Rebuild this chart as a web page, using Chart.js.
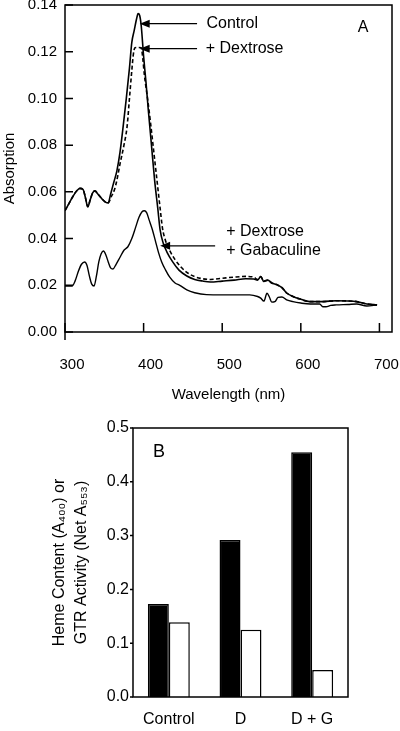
<!DOCTYPE html>
<html>
<head>
<meta charset="utf-8">
<script src="https://cdn.jsdelivr.net/npm/chart.js@4.4.0/dist/chart.umd.min.js"></script>
<style>
html, body { margin: 0; padding: 0; background: #fff; }
body { width: 400px; height: 731px; position: relative; overflow: hidden; }
canvas { position: absolute; left: 0; }
#specchart { top: 0; }
#barchart { top: 405px; }
</style>
</head>
<body>
<canvas id="specchart" width="400" height="405"></canvas>
<canvas id="barchart" width="400" height="326"></canvas>
<script>
// Panel A - absorption spectra (wavelength in nm, absorption)
var wlControl = [300, 305, 310, 315, 319, 323, 326, 329, 332, 335, 338, 342, 347, 352, 355, 358, 362, 366, 370, 374, 378, 382, 385, 388, 391, 393, 395, 397, 400, 403, 406, 410, 414, 418, 421, 425, 430, 437, 445, 455, 465, 475, 485, 500, 515, 530, 540, 545, 549, 553, 558, 563, 570, 576, 582, 590, 600, 611, 628, 645, 660, 671, 684, 697];
var absControl = [0.052, 0.055, 0.058, 0.0605, 0.0615, 0.061, 0.0575, 0.0536, 0.0565, 0.0595, 0.0604, 0.059, 0.057, 0.0555, 0.0553, 0.059, 0.064, 0.069, 0.077, 0.088, 0.100, 0.113, 0.124, 0.129, 0.134, 0.1363, 0.1355, 0.131, 0.118, 0.107, 0.095, 0.080, 0.065, 0.053, 0.0437, 0.038, 0.034, 0.030, 0.0265, 0.024, 0.0225, 0.0218, 0.0214, 0.0218, 0.0222, 0.0228, 0.0227, 0.0222, 0.0237, 0.0216, 0.0222, 0.021, 0.0202, 0.019, 0.0167, 0.0152, 0.014, 0.013, 0.013, 0.0134, 0.0133, 0.013, 0.012, 0.0116];

var wlDextrose = [300, 305, 310, 315, 319, 323, 326, 329, 332, 335, 338, 342, 347, 352, 355, 359, 363, 366, 370, 375, 379, 382, 385, 387, 389, 393, 397, 399, 401, 405, 409, 413, 417, 421, 424, 428, 433, 440, 447, 455, 465, 475, 485, 500, 515, 530, 540, 545, 549, 553, 558, 563, 570, 576, 582, 590, 600, 611, 628, 645, 660, 671, 684, 697];
var absDextrose = [0.052, 0.055, 0.058, 0.0605, 0.0615, 0.061, 0.0575, 0.0536, 0.0565, 0.0595, 0.0604, 0.059, 0.057, 0.0555, 0.0553, 0.058, 0.061, 0.065, 0.072, 0.080, 0.088, 0.100, 0.112, 0.119, 0.1217, 0.1218, 0.1217, 0.117, 0.110, 0.100, 0.089, 0.077, 0.065, 0.053, 0.0445, 0.039, 0.035, 0.031, 0.028, 0.0255, 0.0237, 0.0228, 0.0225, 0.023, 0.0235, 0.0238, 0.0235, 0.0225, 0.0237, 0.0218, 0.0222, 0.021, 0.0202, 0.019, 0.0167, 0.0152, 0.014, 0.013, 0.013, 0.0134, 0.0133, 0.013, 0.012, 0.0116];

var wlGab = [300, 309, 313, 317, 321, 325, 328, 331, 334, 337, 340, 343, 346, 349, 352, 355, 358, 361, 365, 370, 375, 380, 385, 390, 394, 398, 401, 404, 407, 411, 415, 419, 423, 428, 433, 440, 446, 455, 465, 480, 500, 520, 535, 545, 549, 553, 557, 560, 563, 567, 571, 576, 582, 590, 600, 612, 624, 628, 632, 638, 645, 660, 671, 684, 697];
var absGab = [0.0197, 0.0197, 0.022, 0.026, 0.029, 0.030, 0.0285, 0.024, 0.0205, 0.0197, 0.024, 0.030, 0.0335, 0.0347, 0.033, 0.030, 0.0275, 0.027, 0.029, 0.032, 0.035, 0.0365, 0.040, 0.045, 0.049, 0.0515, 0.0519, 0.051, 0.048, 0.044, 0.039, 0.034, 0.030, 0.0265, 0.0236, 0.021, 0.020, 0.018, 0.0168, 0.016, 0.0159, 0.0159, 0.0159, 0.0152, 0.0145, 0.0132, 0.0166, 0.015, 0.0128, 0.013, 0.0148, 0.015, 0.0138, 0.013, 0.0124, 0.012, 0.012, 0.0108, 0.0108, 0.0114, 0.0116, 0.0118, 0.012, 0.0111, 0.0116];

var xTicksA = [300, 400, 500, 600, 700];
var yTicksA = [0, 0.02, 0.04, 0.06, 0.08, 0.10, 0.12, 0.14];

// Panel A - arrow labels, in data units (nm, absorption)
var arrowNotes = [
    { tip: 395, tail: 468, at: 0.132 },
    { tip: 395, tail: 468, at: 0.1213 },
    { tip: 421, tail: 491, at: 0.0369 }
];
var textNotes = [
    { text: 'Control', x: 480, y: 0.132 },
    { text: '+ Dextrose', x: 479, y: 0.1213 },
    { text: '+ Dextrose', x: 505, y: 0.0429 },
    { text: '+ Gabaculine', x: 505, y: 0.0347 }
];

// Panel B - heme content and GTR activity
var groups = ['Control', 'D', 'D + G'];
var hemeContent = [0.173, 0.292, 0.455];
var gtrActivity = [0.139, 0.125, 0.050];
var yTicksB = [0, 0.1, 0.2, 0.3, 0.4, 0.5];

Chart.defaults.font.family = '"Liberation Sans", Arial, Helvetica, sans-serif';
Chart.defaults.color = '#000';

function pts(xs, ys) {
    return xs.map(function (v, i) { return { x: v, y: ys[i] }; });
}

// box round the plot plus short tick marks
var framePlugin = {
    id: 'frame',
    afterDatasetsDraw: function (chart, args, opts) {
        var ctx = chart.ctx, a = chart.chartArea, sx = chart.scales.x, sy = chart.scales.y;
        ctx.save();
        ctx.strokeStyle = '#000';
        ctx.lineWidth = 1.5;
        ctx.strokeRect(a.left, a.top, a.right - a.left, a.bottom - a.top);
        ctx.beginPath();
        if (opts.xIn) {
            sx.ticks.forEach(function (t) {
                var px = sx.getPixelForValue(t.value);
                ctx.moveTo(px, a.bottom);
                ctx.lineTo(px, a.bottom - opts.xIn);
            });
        }
        sy.ticks.forEach(function (t) {
            var py = sy.getPixelForValue(t.value);
            ctx.moveTo(a.left - (opts.yOut || 0), py);
            ctx.lineTo(a.left + (opts.yIn || 0), py);
        });
        if (opts.axisExt) {
            ctx.moveTo(a.left, a.bottom);
            ctx.lineTo(a.left, a.bottom + opts.axisExt);
        }
        ctx.stroke();
        ctx.restore();
    }
};

// panel letter, placed from the plot corner
var tagPlugin = {
    id: 'tag',
    afterDraw: function (chart, args, opts) {
        var ctx = chart.ctx, a = chart.chartArea;
        ctx.save();
        ctx.font = opts.size + 'px "Liberation Sans", Arial, sans-serif';
        ctx.fillStyle = '#000';
        ctx.textAlign = 'center';
        ctx.textBaseline = 'middle';
        var x = opts.fromRight ? a.right - opts.fromRight : a.left + opts.fromLeft;
        ctx.fillText(opts.text, x, a.top + opts.fromTop);
        ctx.restore();
    }
};

// arrows and series names for panel A
var notesPlugin = {
    id: 'notes',
    afterDraw: function (chart) {
        var ctx = chart.ctx, sx = chart.scales.x, sy = chart.scales.y;
        ctx.save();
        ctx.strokeStyle = '#000';
        ctx.fillStyle = '#000';
        ctx.lineWidth = 1.2;
        arrowNotes.forEach(function (n) {
            var x0 = sx.getPixelForValue(n.tip), x1 = sx.getPixelForValue(n.tail), py = sy.getPixelForValue(n.at);
            ctx.beginPath();
            ctx.moveTo(x0 + 6, py);
            ctx.lineTo(x1, py);
            ctx.stroke();
            ctx.beginPath();
            ctx.moveTo(x0, py);
            ctx.lineTo(x0 + 10, py - 4);
            ctx.lineTo(x0 + 10, py + 4);
            ctx.closePath();
            ctx.fill();
        });
        ctx.font = '16px "Liberation Sans", Arial, sans-serif';
        ctx.textAlign = 'left';
        ctx.textBaseline = 'middle';
        textNotes.forEach(function (n) {
            ctx.fillText(n.text, sx.getPixelForValue(n.x), sy.getPixelForValue(n.y));
        });
        ctx.restore();
    }
};

// Spectra
var chart1 = document.getElementById('specchart');
var myChart1 = new Chart(chart1, {
    type: 'line',
    data: {
        datasets: [{
            label: 'Control',
            data: pts(wlControl, absControl),
            borderColor: '#000',
            borderWidth: 1.6,
            pointRadius: 0,
            cubicInterpolationMode: 'monotone'
        }, {
            label: '+ Dextrose',
            data: pts(wlDextrose, absDextrose),
            borderColor: '#000',
            borderWidth: 1.6,
            borderDash: [4, 2.5],
            pointRadius: 0,
            cubicInterpolationMode: 'monotone'
        }, {
            label: '+ Dextrose + Gabaculine',
            data: pts(wlGab, absGab),
            borderColor: '#000',
            borderWidth: 1.4,
            pointRadius: 0,
            cubicInterpolationMode: 'monotone'
        }]
    },
    options: {
        responsive: false,
        animation: false,
        layout: { padding: { left: 0, top: 5, right: 8, bottom: 0 } },
        plugins: {
            legend: { display: false },
            tooltip: { enabled: false },
            frame: { xIn: 9, yIn: 8, axisExt: 8 },
            tag: { text: 'A', size: 16, fromRight: 29, fromTop: 23 }
        },
        scales: {
            x: {
                type: 'linear',
                min: 300,
                max: 716,
                afterFit: function (s) { s.height = 73; s.paddingLeft = 0; s.paddingRight = 0; },
                afterBuildTicks: function (s) { s.ticks = xTicksA.map(function (v) { return { value: v }; }); },
                grid: { display: false, drawTicks: false },
                border: { display: false },
                ticks: { padding: 24, labelOffset: 7, maxRotation: 0, font: { size: 15 } },
                title: { display: true, text: 'Wavelength (nm)', font: { size: 15 }, padding: { top: 0, bottom: 1 } }
            },
            y: {
                min: 0,
                max: 0.14,
                afterFit: function (s) { s.width = 65; s.paddingTop = 0; s.paddingBottom = 0; },
                afterBuildTicks: function (s) { s.ticks = yTicksA.map(function (v) { return { value: v }; }); },
                grid: { display: false, drawTicks: false },
                border: { display: false },
                ticks: { padding: 8, font: { size: 15 }, callback: function (v) { return v.toFixed(2); } },
                title: { display: true, text: 'Absorption', font: { size: 15 }, padding: { top: 1, bottom: 0 } }
            }
        }
    },
    plugins: [framePlugin, tagPlugin, notesPlugin]
});

// Bars
var chart2 = document.getElementById('barchart');
var myChart2 = new Chart(chart2, {
    type: 'bar',
    data: {
        labels: groups,
        datasets: [{
            label: 'Heme content (A400)',
            data: hemeContent,
            backgroundColor: '#000',
            borderColor: '#000',
            borderWidth: 1.5
        }, {
            label: 'GTR activity (Net A553)',
            data: gtrActivity,
            backgroundColor: '#fff',
            borderColor: '#000',
            borderWidth: 1.5
        }]
    },
    options: {
        responsive: false,
        animation: false,
        layout: { padding: { left: 45, top: 23, right: 52, bottom: 0 } },
        datasets: { bar: { categoryPercentage: 0.585, barPercentage: 1.0 } },
        plugins: {
            legend: { display: false },
            tooltip: { enabled: false },
            frame: { yOut: 3 },
            tag: { text: 'B', size: 18, fromLeft: 26, fromTop: 24 }
        },
        scales: {
            x: {
                afterFit: function (s) { s.height = 34; s.paddingLeft = 0; s.paddingRight = 0; },
                grid: { display: false, drawTicks: false },
                border: { display: false },
                ticks: { padding: 13, font: { size: 16 } }
            },
            y: {
                min: 0,
                max: 0.5,
                afterFit: function (s) { s.width = 88; s.paddingTop = 0; s.paddingBottom = 0; },
                afterBuildTicks: function (s) { s.ticks = yTicksB.map(function (v) { return { value: v }; }); },
                grid: { display: false, drawTicks: false },
                border: { display: false },
                ticks: { padding: 4, font: { size: 16 }, callback: function (v) { return v.toFixed(1); } },
                title: {
                    display: true,
                    text: ['Heme Content (A\u2084\u2080\u2080) or', 'GTR Activity (Net A\u2085\u2085\u2083)'],
                    font: { size: 16, lineHeight: 1.35 },
                    padding: { top: 4, bottom: 0 }
                }
            }
        }
    },
    plugins: [framePlugin, tagPlugin]
});
</script>
</body>
</html>
